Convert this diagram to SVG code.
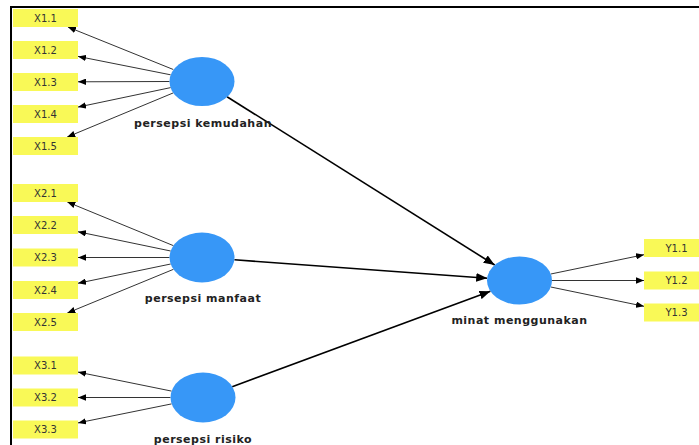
<svg xmlns="http://www.w3.org/2000/svg" width="699" height="445" viewBox="0 0 699 445">
  <style>
    .ind rect { fill: #f9f957; }
    .ind text { font-family: "DejaVu Sans", sans-serif; font-size: 10px; fill: #333; text-anchor: middle; }
    .lv ellipse { fill: #3797f7; }
    .lv text { font-family: "DejaVu Sans", sans-serif; font-size: 11px; font-weight: bold; fill: #222; text-anchor: middle; letter-spacing: 0.5px; }
    .meas { stroke: #333; stroke-width: 1; fill: none; marker-end: url(#headS); }
    .path { stroke: #000; stroke-width: 1.6; fill: none; marker-end: url(#headL); }
  </style>
  <defs>
    <marker id="headS" viewBox="0 0 10 8" refX="10" refY="4" markerWidth="8" markerHeight="6.4" markerUnits="userSpaceOnUse" orient="auto">
      <path d="M0,0 L10,4 L0,8 Z" fill="#000"/>
    </marker>
    <marker id="headL" viewBox="0 0 10 8" refX="10" refY="4" markerWidth="11" markerHeight="8.8" markerUnits="userSpaceOnUse" orient="auto">
      <path d="M0,0 L10,4 L0,8 Z" fill="#000"/>
    </marker>
  </defs>
  <rect width="699" height="445" fill="#fff"/>
  <!-- frame: top and left edges only -->
  <path d="M11,445 V7 H699" stroke="#000" stroke-width="2" fill="none"/>

  <g id="connectors">
    <!-- persepsi kemudahan indicators -->
    <line class="meas" x1="173.3" y1="69.5" x2="67.9" y2="27"/>
    <line class="meas" x1="170.6" y1="74.8" x2="78" y2="56.4"/>
    <line class="meas" x1="169.5" y1="81.5" x2="78" y2="81.8"/>
    <line class="meas" x1="170.7" y1="87.6" x2="78" y2="107.1"/>
    <line class="meas" x1="173.5" y1="92.8" x2="67.2" y2="137"/>
    <!-- persepsi manfaat indicators -->
    <line class="meas" x1="173.5" y1="245.7" x2="67.3" y2="202"/>
    <line class="meas" x1="170.7" y1="251" x2="78" y2="231.75"/>
    <line class="meas" x1="169.5" y1="257.5" x2="78" y2="257.5"/>
    <line class="meas" x1="170.7" y1="264" x2="78" y2="283.25"/>
    <line class="meas" x1="173.5" y1="269.3" x2="67.3" y2="313"/>
    <!-- persepsi risiko indicators -->
    <line class="meas" x1="171.6" y1="391.1" x2="78" y2="372.1"/>
    <line class="meas" x1="170.5" y1="397.5" x2="78" y2="397.5"/>
    <line class="meas" x1="171.6" y1="403.9" x2="78" y2="422.9"/>
    <!-- minat menggunakan indicators -->
    <line class="meas" x1="550.8" y1="274" x2="644" y2="254.7"/>
    <line class="meas" x1="552" y1="280.5" x2="644" y2="280.5"/>
    <line class="meas" x1="550.8" y1="287" x2="644" y2="306.3"/>
    <!-- structural paths -->
    <line class="path" x1="227" y1="96.7" x2="494.7" y2="265"/>
    <line class="path" x1="234.4" y1="259.8" x2="487.2" y2="278.2"/>
    <line class="path" x1="232.2" y1="386.7" x2="490.4" y2="291.2"/>
  </g>

  <g id="X1.1" class="ind"><rect x="13" y="9" width="65" height="18"/><text x="45.5" y="21.5">X1.1</text></g>
  <g id="X1.2" class="ind"><rect x="13" y="41" width="65" height="18"/><text x="45.5" y="53.5">X1.2</text></g>
  <g id="X1.3" class="ind"><rect x="13" y="73" width="65" height="18"/><text x="45.5" y="85.5">X1.3</text></g>
  <g id="X1.4" class="ind"><rect x="13" y="105" width="65" height="18"/><text x="45.5" y="117.5">X1.4</text></g>
  <g id="X1.5" class="ind"><rect x="13" y="137" width="65" height="18"/><text x="45.5" y="149.5">X1.5</text></g>

  <g id="X2.1" class="ind"><rect x="13" y="184" width="65" height="18"/><text x="45.5" y="196.5">X2.1</text></g>
  <g id="X2.2" class="ind"><rect x="13" y="216" width="65" height="18"/><text x="45.5" y="228.5">X2.2</text></g>
  <g id="X2.3" class="ind"><rect x="13" y="248.5" width="65" height="18"/><text x="45.5" y="261">X2.3</text></g>
  <g id="X2.4" class="ind"><rect x="13" y="281" width="65" height="18"/><text x="45.5" y="293.5">X2.4</text></g>
  <g id="X2.5" class="ind"><rect x="13" y="313" width="65" height="18"/><text x="45.5" y="325.5">X2.5</text></g>

  <g id="X3.1" class="ind"><rect x="13" y="356.5" width="65" height="18"/><text x="45.5" y="369">X3.1</text></g>
  <g id="X3.2" class="ind"><rect x="13" y="388.5" width="65" height="18"/><text x="45.5" y="401">X3.2</text></g>
  <g id="X3.3" class="ind"><rect x="13" y="420.5" width="65" height="18"/><text x="45.5" y="433">X3.3</text></g>

  <g id="Y1.1" class="ind"><rect x="644" y="239" width="65" height="18"/><text x="676.5" y="251.5">Y1.1</text></g>
  <g id="Y1.2" class="ind"><rect x="644" y="271.5" width="65" height="18"/><text x="676.5" y="284">Y1.2</text></g>
  <g id="Y1.3" class="ind"><rect x="644" y="303.5" width="65" height="18"/><text x="676.5" y="316">Y1.3</text></g>

  <g id="persepsi-kemudahan" class="lv"><ellipse cx="202" cy="81.5" rx="32.5" ry="24.5"/><text x="203" y="127">persepsi kemudahan</text></g>
  <g id="persepsi-manfaat" class="lv"><ellipse cx="202" cy="257.5" rx="32.5" ry="25"/><text x="203" y="301.5">persepsi manfaat</text></g>
  <g id="persepsi-risiko" class="lv"><ellipse cx="203" cy="397.5" rx="32.5" ry="25"/><text x="203" y="443">persepsi risiko</text></g>
  <g id="minat-menggunakan" class="lv"><ellipse cx="519.5" cy="280.5" rx="32.5" ry="24"/><text x="519.5" y="324">minat menggunakan</text></g>
</svg>
